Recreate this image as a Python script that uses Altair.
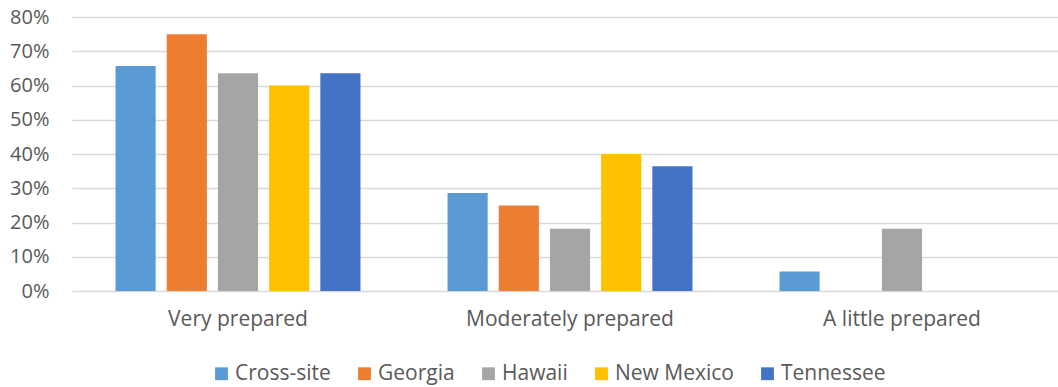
import altair as alt
import pandas as pd

# Share of respondents by preparedness level and site
levels = ["Very prepared", "Moderately prepared", "A little prepared"]
sites = ["Cross-site", "Georgia", "Hawaii", "New Mexico", "Tennessee"]
very_prepared = [0.657, 0.750, 0.636, 0.600, 0.636]
moderately_prepared = [0.286, 0.250, 0.182, 0.400, 0.364]
a_little_prepared = [0.057, 0.0, 0.182, 0.0, 0.0]
colors = ["#5B9BD5", "#ED7D31", "#A5A5A5", "#FFC000", "#4472C4"]

rows = []
for level, vals in zip(levels, [very_prepared, moderately_prepared, a_little_prepared]):
    for site, v in zip(sites, vals):
        rows.append({"level": level, "site": site, "share": v})
df = pd.DataFrame(rows)

FONT = "Open Sans"
TEXT = "#595959"

chart = (
    alt.Chart(df)
    .mark_bar()
    .encode(
        x=alt.X(
            "level:N",
            sort=levels,
            title=None,
            # category bands run slightly past the visible right edge
            scale=alt.Scale(paddingInner=0, paddingOuter=0, range=[0, 996]),
            axis=alt.Axis(
                labelAngle=0,
                ticks=False,
                domain=False,
                labelFont=FONT,
                labelFontSize=21,
                labelColor=TEXT,
                labelPadding=17,
                labelLimit=0,
            ),
        ),
        xOffset=alt.XOffset(
            "site:N",
            sort=sites,
            scale=alt.Scale(paddingInner=0.216, paddingOuter=0.85),
        ),
        y=alt.Y(
            "share:Q",
            title=None,
            scale=alt.Scale(domain=[0, 0.8], nice=False),
            axis=alt.Axis(
                format=".0%",
                values=[i / 10 for i in range(9)],
                ticks=False,
                domain=False,
                gridColor="#D9D9D9",
                gridWidth=1.5,
                labelFont=FONT,
                labelFontSize=20,
                labelColor=TEXT,
                labelPadding=23,
            ),
        ),
        color=alt.Color(
            "site:N",
            sort=sites,
            scale=alt.Scale(domain=sites, range=colors),
            legend=alt.Legend(
                title=None,
                orient="none",
                direction="horizontal",
                legendX=139,
                legendY=346,
                symbolType="square",
                symbolSize=165,
                symbolStrokeWidth=0,
                symbolOpacity=1,
                labelFont=FONT,
                labelFontSize=21,
                labelColor=TEXT,
                labelOffset=3,
                labelLimit=0,
                columnPadding=23,
            ),
        ),
    )
    .properties(
        width=986,
        height=274,
        autosize=alt.AutoSizeParams(type="none"),
        padding={"left": 72, "top": 17, "right": 0, "bottom": 96},
    )
    .configure_view(stroke=None)
    .configure_axis(gridColor="#D9D9D9")
)

chart.save("out.html", embed_options={"renderer": "svg", "actions": False})
